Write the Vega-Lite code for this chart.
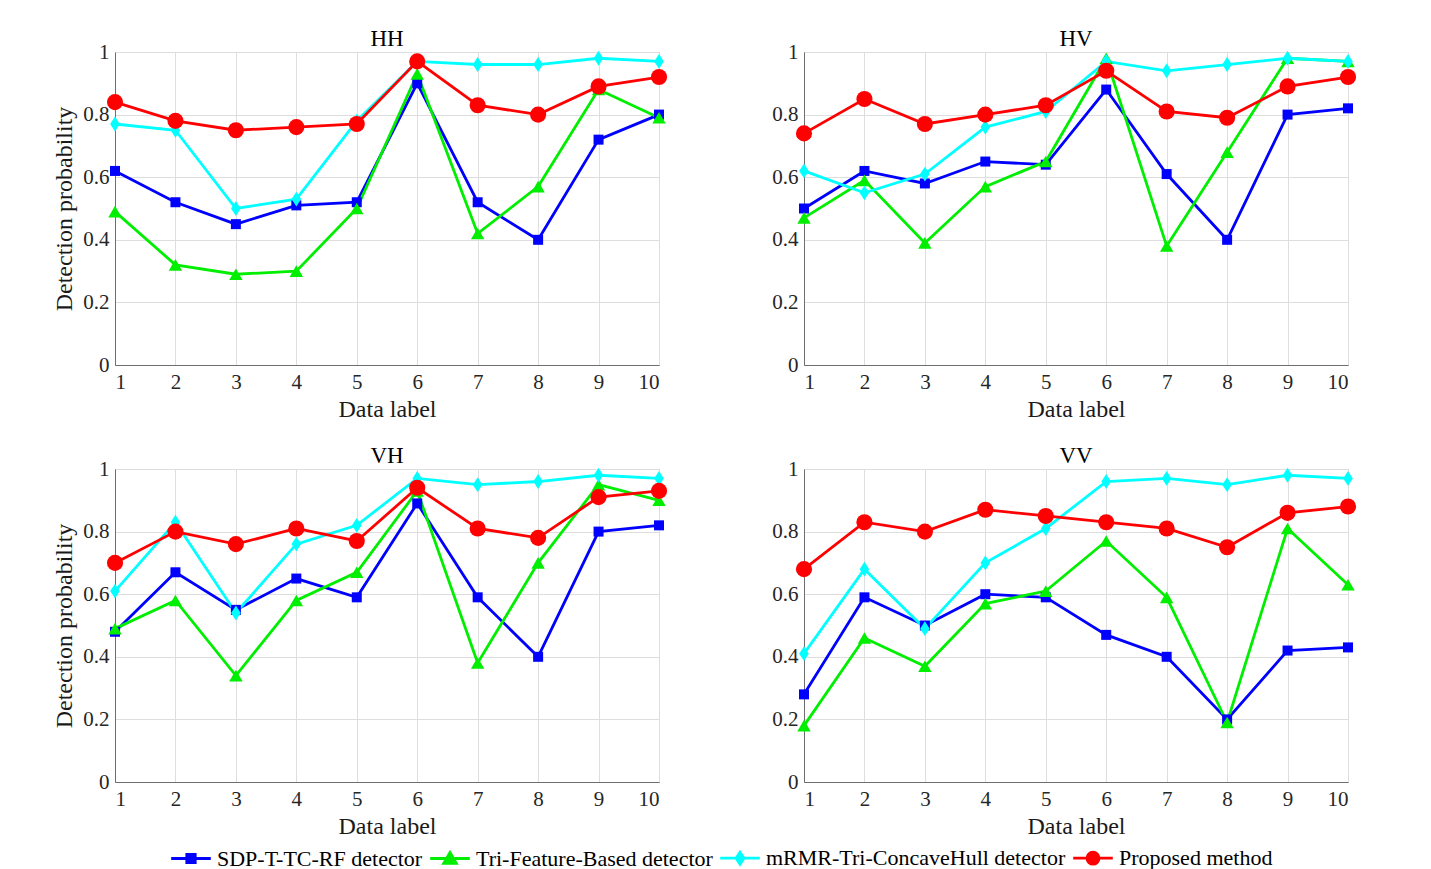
{
  "$schema": "https://vega.github.io/schema/vega-lite/v6.json",
  "padding": {"left": 52, "top": 27, "right": 5, "bottom": 0},
  "background": "white",
  "config": {
    "font": "Liberation Serif",
    "view": {"stroke": "#6e6e6e", "strokeWidth": 1},
    "axis": {
      "labelFont": "Liberation Serif",
      "titleFont": "Liberation Serif",
      "labelFontSize": 21,
      "titleFontSize": 24,
      "titleFontWeight": "normal",
      "labelColor": "#262626",
      "titleColor": "#1a1a1a",
      "gridColor": "#dedede",
      "domainColor": "#6e6e6e",
      "ticks": false,
      "labelPadding": 6
    },
    "title": {"font": "Liberation Serif", "fontSize": 23, "fontWeight": "normal", "color": "#000000", "offset": -10, "baseline": "alphabetic"},
    "point": {
      "filled": true,
      "opacity": 1,
      "shape": {"expr": "datum.method === 'SDP-T-TC-RF detector' ? 'square' : datum.method === 'Tri-Feature-Based detector' ? 'triangle-up' : datum.method === 'mRMR-Tri-ConcaveHull detector' ? 'M0,-1L0.65,0L0,1L-0.65,0Z' : 'circle'"},
      "size": {"expr": "datum.method === 'SDP-T-TC-RF detector' ? 100 : datum.method === 'Tri-Feature-Based detector' ? 180 : datum.method === 'mRMR-Tri-ConcaveHull detector' ? 220 : 260"}
    }
  },
  "data": {
    "values": [
      {"pol": "HH", "method": "SDP-T-TC-RF detector", "label": 1, "pd": 0.62},
      {"pol": "HH", "method": "SDP-T-TC-RF detector", "label": 2, "pd": 0.52},
      {"pol": "HH", "method": "SDP-T-TC-RF detector", "label": 3, "pd": 0.45},
      {"pol": "HH", "method": "SDP-T-TC-RF detector", "label": 4, "pd": 0.51},
      {"pol": "HH", "method": "SDP-T-TC-RF detector", "label": 5, "pd": 0.52},
      {"pol": "HH", "method": "SDP-T-TC-RF detector", "label": 6, "pd": 0.90},
      {"pol": "HH", "method": "SDP-T-TC-RF detector", "label": 7, "pd": 0.52},
      {"pol": "HH", "method": "SDP-T-TC-RF detector", "label": 8, "pd": 0.40},
      {"pol": "HH", "method": "SDP-T-TC-RF detector", "label": 9, "pd": 0.72},
      {"pol": "HH", "method": "SDP-T-TC-RF detector", "label": 10, "pd": 0.80},
      {"pol": "HH", "method": "Tri-Feature-Based detector", "label": 1, "pd": 0.49},
      {"pol": "HH", "method": "Tri-Feature-Based detector", "label": 2, "pd": 0.32},
      {"pol": "HH", "method": "Tri-Feature-Based detector", "label": 3, "pd": 0.29},
      {"pol": "HH", "method": "Tri-Feature-Based detector", "label": 4, "pd": 0.30},
      {"pol": "HH", "method": "Tri-Feature-Based detector", "label": 5, "pd": 0.50},
      {"pol": "HH", "method": "Tri-Feature-Based detector", "label": 6, "pd": 0.93},
      {"pol": "HH", "method": "Tri-Feature-Based detector", "label": 7, "pd": 0.42},
      {"pol": "HH", "method": "Tri-Feature-Based detector", "label": 8, "pd": 0.57},
      {"pol": "HH", "method": "Tri-Feature-Based detector", "label": 9, "pd": 0.88},
      {"pol": "HH", "method": "Tri-Feature-Based detector", "label": 10, "pd": 0.79},
      {"pol": "HH", "method": "mRMR-Tri-ConcaveHull detector", "label": 1, "pd": 0.77},
      {"pol": "HH", "method": "mRMR-Tri-ConcaveHull detector", "label": 2, "pd": 0.75},
      {"pol": "HH", "method": "mRMR-Tri-ConcaveHull detector", "label": 3, "pd": 0.50},
      {"pol": "HH", "method": "mRMR-Tri-ConcaveHull detector", "label": 4, "pd": 0.53},
      {"pol": "HH", "method": "mRMR-Tri-ConcaveHull detector", "label": 5, "pd": 0.78},
      {"pol": "HH", "method": "mRMR-Tri-ConcaveHull detector", "label": 6, "pd": 0.97},
      {"pol": "HH", "method": "mRMR-Tri-ConcaveHull detector", "label": 7, "pd": 0.96},
      {"pol": "HH", "method": "mRMR-Tri-ConcaveHull detector", "label": 8, "pd": 0.96},
      {"pol": "HH", "method": "mRMR-Tri-ConcaveHull detector", "label": 9, "pd": 0.98},
      {"pol": "HH", "method": "mRMR-Tri-ConcaveHull detector", "label": 10, "pd": 0.97},
      {"pol": "HH", "method": "Proposed method", "label": 1, "pd": 0.84},
      {"pol": "HH", "method": "Proposed method", "label": 2, "pd": 0.78},
      {"pol": "HH", "method": "Proposed method", "label": 3, "pd": 0.75},
      {"pol": "HH", "method": "Proposed method", "label": 4, "pd": 0.76},
      {"pol": "HH", "method": "Proposed method", "label": 5, "pd": 0.77},
      {"pol": "HH", "method": "Proposed method", "label": 6, "pd": 0.97},
      {"pol": "HH", "method": "Proposed method", "label": 7, "pd": 0.83},
      {"pol": "HH", "method": "Proposed method", "label": 8, "pd": 0.80},
      {"pol": "HH", "method": "Proposed method", "label": 9, "pd": 0.89},
      {"pol": "HH", "method": "Proposed method", "label": 10, "pd": 0.92},
      {"pol": "HV", "method": "SDP-T-TC-RF detector", "label": 1, "pd": 0.50},
      {"pol": "HV", "method": "SDP-T-TC-RF detector", "label": 2, "pd": 0.62},
      {"pol": "HV", "method": "SDP-T-TC-RF detector", "label": 3, "pd": 0.58},
      {"pol": "HV", "method": "SDP-T-TC-RF detector", "label": 4, "pd": 0.65},
      {"pol": "HV", "method": "SDP-T-TC-RF detector", "label": 5, "pd": 0.64},
      {"pol": "HV", "method": "SDP-T-TC-RF detector", "label": 6, "pd": 0.88},
      {"pol": "HV", "method": "SDP-T-TC-RF detector", "label": 7, "pd": 0.61},
      {"pol": "HV", "method": "SDP-T-TC-RF detector", "label": 8, "pd": 0.40},
      {"pol": "HV", "method": "SDP-T-TC-RF detector", "label": 9, "pd": 0.80},
      {"pol": "HV", "method": "SDP-T-TC-RF detector", "label": 10, "pd": 0.82},
      {"pol": "HV", "method": "Tri-Feature-Based detector", "label": 1, "pd": 0.47},
      {"pol": "HV", "method": "Tri-Feature-Based detector", "label": 2, "pd": 0.59},
      {"pol": "HV", "method": "Tri-Feature-Based detector", "label": 3, "pd": 0.39},
      {"pol": "HV", "method": "Tri-Feature-Based detector", "label": 4, "pd": 0.57},
      {"pol": "HV", "method": "Tri-Feature-Based detector", "label": 5, "pd": 0.65},
      {"pol": "HV", "method": "Tri-Feature-Based detector", "label": 6, "pd": 0.98},
      {"pol": "HV", "method": "Tri-Feature-Based detector", "label": 7, "pd": 0.38},
      {"pol": "HV", "method": "Tri-Feature-Based detector", "label": 8, "pd": 0.68},
      {"pol": "HV", "method": "Tri-Feature-Based detector", "label": 9, "pd": 0.98},
      {"pol": "HV", "method": "Tri-Feature-Based detector", "label": 10, "pd": 0.97},
      {"pol": "HV", "method": "mRMR-Tri-ConcaveHull detector", "label": 1, "pd": 0.62},
      {"pol": "HV", "method": "mRMR-Tri-ConcaveHull detector", "label": 2, "pd": 0.55},
      {"pol": "HV", "method": "mRMR-Tri-ConcaveHull detector", "label": 3, "pd": 0.61},
      {"pol": "HV", "method": "mRMR-Tri-ConcaveHull detector", "label": 4, "pd": 0.76},
      {"pol": "HV", "method": "mRMR-Tri-ConcaveHull detector", "label": 5, "pd": 0.81},
      {"pol": "HV", "method": "mRMR-Tri-ConcaveHull detector", "label": 6, "pd": 0.97},
      {"pol": "HV", "method": "mRMR-Tri-ConcaveHull detector", "label": 7, "pd": 0.94},
      {"pol": "HV", "method": "mRMR-Tri-ConcaveHull detector", "label": 8, "pd": 0.96},
      {"pol": "HV", "method": "mRMR-Tri-ConcaveHull detector", "label": 9, "pd": 0.98},
      {"pol": "HV", "method": "mRMR-Tri-ConcaveHull detector", "label": 10, "pd": 0.97},
      {"pol": "HV", "method": "Proposed method", "label": 1, "pd": 0.74},
      {"pol": "HV", "method": "Proposed method", "label": 2, "pd": 0.85},
      {"pol": "HV", "method": "Proposed method", "label": 3, "pd": 0.77},
      {"pol": "HV", "method": "Proposed method", "label": 4, "pd": 0.80},
      {"pol": "HV", "method": "Proposed method", "label": 5, "pd": 0.83},
      {"pol": "HV", "method": "Proposed method", "label": 6, "pd": 0.94},
      {"pol": "HV", "method": "Proposed method", "label": 7, "pd": 0.81},
      {"pol": "HV", "method": "Proposed method", "label": 8, "pd": 0.79},
      {"pol": "HV", "method": "Proposed method", "label": 9, "pd": 0.89},
      {"pol": "HV", "method": "Proposed method", "label": 10, "pd": 0.92},
      {"pol": "VH", "method": "SDP-T-TC-RF detector", "label": 1, "pd": 0.48},
      {"pol": "VH", "method": "SDP-T-TC-RF detector", "label": 2, "pd": 0.67},
      {"pol": "VH", "method": "SDP-T-TC-RF detector", "label": 3, "pd": 0.55},
      {"pol": "VH", "method": "SDP-T-TC-RF detector", "label": 4, "pd": 0.65},
      {"pol": "VH", "method": "SDP-T-TC-RF detector", "label": 5, "pd": 0.59},
      {"pol": "VH", "method": "SDP-T-TC-RF detector", "label": 6, "pd": 0.89},
      {"pol": "VH", "method": "SDP-T-TC-RF detector", "label": 7, "pd": 0.59},
      {"pol": "VH", "method": "SDP-T-TC-RF detector", "label": 8, "pd": 0.40},
      {"pol": "VH", "method": "SDP-T-TC-RF detector", "label": 9, "pd": 0.80},
      {"pol": "VH", "method": "SDP-T-TC-RF detector", "label": 10, "pd": 0.82},
      {"pol": "VH", "method": "Tri-Feature-Based detector", "label": 1, "pd": 0.49},
      {"pol": "VH", "method": "Tri-Feature-Based detector", "label": 2, "pd": 0.58},
      {"pol": "VH", "method": "Tri-Feature-Based detector", "label": 3, "pd": 0.34},
      {"pol": "VH", "method": "Tri-Feature-Based detector", "label": 4, "pd": 0.58},
      {"pol": "VH", "method": "Tri-Feature-Based detector", "label": 5, "pd": 0.67},
      {"pol": "VH", "method": "Tri-Feature-Based detector", "label": 6, "pd": 0.93},
      {"pol": "VH", "method": "Tri-Feature-Based detector", "label": 7, "pd": 0.38},
      {"pol": "VH", "method": "Tri-Feature-Based detector", "label": 8, "pd": 0.70},
      {"pol": "VH", "method": "Tri-Feature-Based detector", "label": 9, "pd": 0.95},
      {"pol": "VH", "method": "Tri-Feature-Based detector", "label": 10, "pd": 0.90},
      {"pol": "VH", "method": "mRMR-Tri-ConcaveHull detector", "label": 1, "pd": 0.61},
      {"pol": "VH", "method": "mRMR-Tri-ConcaveHull detector", "label": 2, "pd": 0.83},
      {"pol": "VH", "method": "mRMR-Tri-ConcaveHull detector", "label": 3, "pd": 0.54},
      {"pol": "VH", "method": "mRMR-Tri-ConcaveHull detector", "label": 4, "pd": 0.76},
      {"pol": "VH", "method": "mRMR-Tri-ConcaveHull detector", "label": 5, "pd": 0.82},
      {"pol": "VH", "method": "mRMR-Tri-ConcaveHull detector", "label": 6, "pd": 0.97},
      {"pol": "VH", "method": "mRMR-Tri-ConcaveHull detector", "label": 7, "pd": 0.95},
      {"pol": "VH", "method": "mRMR-Tri-ConcaveHull detector", "label": 8, "pd": 0.96},
      {"pol": "VH", "method": "mRMR-Tri-ConcaveHull detector", "label": 9, "pd": 0.98},
      {"pol": "VH", "method": "mRMR-Tri-ConcaveHull detector", "label": 10, "pd": 0.97},
      {"pol": "VH", "method": "Proposed method", "label": 1, "pd": 0.70},
      {"pol": "VH", "method": "Proposed method", "label": 2, "pd": 0.80},
      {"pol": "VH", "method": "Proposed method", "label": 3, "pd": 0.76},
      {"pol": "VH", "method": "Proposed method", "label": 4, "pd": 0.81},
      {"pol": "VH", "method": "Proposed method", "label": 5, "pd": 0.77},
      {"pol": "VH", "method": "Proposed method", "label": 6, "pd": 0.94},
      {"pol": "VH", "method": "Proposed method", "label": 7, "pd": 0.81},
      {"pol": "VH", "method": "Proposed method", "label": 8, "pd": 0.78},
      {"pol": "VH", "method": "Proposed method", "label": 9, "pd": 0.91},
      {"pol": "VH", "method": "Proposed method", "label": 10, "pd": 0.93},
      {"pol": "VV", "method": "SDP-T-TC-RF detector", "label": 1, "pd": 0.28},
      {"pol": "VV", "method": "SDP-T-TC-RF detector", "label": 2, "pd": 0.59},
      {"pol": "VV", "method": "SDP-T-TC-RF detector", "label": 3, "pd": 0.50},
      {"pol": "VV", "method": "SDP-T-TC-RF detector", "label": 4, "pd": 0.60},
      {"pol": "VV", "method": "SDP-T-TC-RF detector", "label": 5, "pd": 0.59},
      {"pol": "VV", "method": "SDP-T-TC-RF detector", "label": 6, "pd": 0.47},
      {"pol": "VV", "method": "SDP-T-TC-RF detector", "label": 7, "pd": 0.40},
      {"pol": "VV", "method": "SDP-T-TC-RF detector", "label": 8, "pd": 0.20},
      {"pol": "VV", "method": "SDP-T-TC-RF detector", "label": 9, "pd": 0.42},
      {"pol": "VV", "method": "SDP-T-TC-RF detector", "label": 10, "pd": 0.43},
      {"pol": "VV", "method": "Tri-Feature-Based detector", "label": 1, "pd": 0.18},
      {"pol": "VV", "method": "Tri-Feature-Based detector", "label": 2, "pd": 0.46},
      {"pol": "VV", "method": "Tri-Feature-Based detector", "label": 3, "pd": 0.37},
      {"pol": "VV", "method": "Tri-Feature-Based detector", "label": 4, "pd": 0.57},
      {"pol": "VV", "method": "Tri-Feature-Based detector", "label": 5, "pd": 0.61},
      {"pol": "VV", "method": "Tri-Feature-Based detector", "label": 6, "pd": 0.77},
      {"pol": "VV", "method": "Tri-Feature-Based detector", "label": 7, "pd": 0.59},
      {"pol": "VV", "method": "Tri-Feature-Based detector", "label": 8, "pd": 0.19},
      {"pol": "VV", "method": "Tri-Feature-Based detector", "label": 9, "pd": 0.81},
      {"pol": "VV", "method": "Tri-Feature-Based detector", "label": 10, "pd": 0.63},
      {"pol": "VV", "method": "mRMR-Tri-ConcaveHull detector", "label": 1, "pd": 0.41},
      {"pol": "VV", "method": "mRMR-Tri-ConcaveHull detector", "label": 2, "pd": 0.68},
      {"pol": "VV", "method": "mRMR-Tri-ConcaveHull detector", "label": 3, "pd": 0.49},
      {"pol": "VV", "method": "mRMR-Tri-ConcaveHull detector", "label": 4, "pd": 0.70},
      {"pol": "VV", "method": "mRMR-Tri-ConcaveHull detector", "label": 5, "pd": 0.81},
      {"pol": "VV", "method": "mRMR-Tri-ConcaveHull detector", "label": 6, "pd": 0.96},
      {"pol": "VV", "method": "mRMR-Tri-ConcaveHull detector", "label": 7, "pd": 0.97},
      {"pol": "VV", "method": "mRMR-Tri-ConcaveHull detector", "label": 8, "pd": 0.95},
      {"pol": "VV", "method": "mRMR-Tri-ConcaveHull detector", "label": 9, "pd": 0.98},
      {"pol": "VV", "method": "mRMR-Tri-ConcaveHull detector", "label": 10, "pd": 0.97},
      {"pol": "VV", "method": "Proposed method", "label": 1, "pd": 0.68},
      {"pol": "VV", "method": "Proposed method", "label": 2, "pd": 0.83},
      {"pol": "VV", "method": "Proposed method", "label": 3, "pd": 0.80},
      {"pol": "VV", "method": "Proposed method", "label": 4, "pd": 0.87},
      {"pol": "VV", "method": "Proposed method", "label": 5, "pd": 0.85},
      {"pol": "VV", "method": "Proposed method", "label": 6, "pd": 0.83},
      {"pol": "VV", "method": "Proposed method", "label": 7, "pd": 0.81},
      {"pol": "VV", "method": "Proposed method", "label": 8, "pd": 0.75},
      {"pol": "VV", "method": "Proposed method", "label": 9, "pd": 0.86},
      {"pol": "VV", "method": "Proposed method", "label": 10, "pd": 0.88}
    ]
  },
  "spacing": 22,
  "vconcat": [
    {
      "spacing": 103,
      "hconcat": [
        {
          "title": "HH",
          "width": 544, "height": 313,
          "transform": [{"filter": "datum.pol === 'HH'"}],
          "encoding": {
            "x": {"field": "label", "type": "quantitative", "title": "Data label", "scale": {"domain": [1, 10], "nice": false, "zero": false}, "axis": {"values": [1,2,3,4,5,6,7,8,9,10], "titlePadding": 5}},
            "y": {"field": "pd", "type": "quantitative", "title": "Detection probability", "scale": {"domain": [0, 1], "nice": false}, "axis": {"values": [0,0.2,0.4,0.6,0.8,1], "format": "~g", "titlePadding": 6}},
            "color": {"field": "method", "type": "nominal", "title": null, "sort": null,
              "scale": {"domain": ["SDP-T-TC-RF detector", "Tri-Feature-Based detector", "mRMR-Tri-ConcaveHull detector", "Proposed method"], "range": ["#0000ff", "#00ee00", "#00ffff", "#ff0000"]},
              "legend": {"orient": "none", "direction": "horizontal", "legendX": 65, "legendY": 795, "symbolSize": 144, "labelFontSize": 22, "labelFont": "Liberation Serif", "labelColor": "#000000", "labelOffset": 15, "labelLimit": 400, "columnPadding": 1, "symbolLimit": 10,
                "symbolStrokeWidth": 2.5, "symbolOpacity": 1,
                "symbolType": {"expr": "datum.value === 'SDP-T-TC-RF detector' ? 'M-3.3,0H3.3M-0.7,-0.7H0.7V0.7H-0.7Z' : datum.value === 'Tri-Feature-Based detector' ? 'M-3.3,0H3.3M0,-1L1.05,0.8H-1.05Z' : datum.value === 'mRMR-Tri-ConcaveHull detector' ? 'M-3.3,0H3.3M0,-1L0.65,0L0,1L-0.65,0Z' : 'M-3.3,0H3.3M-1,0A1,1,0,1,1,1,0A1,1,0,1,1,-1,0Z'"},
                "symbolFillColor": {"expr": "scale('color', datum.value)"},
                "symbolStrokeColor": {"expr": "scale('color', datum.value)"}
              }
            }
          },
          "layer": [
            {"mark": {"type": "line"}, "encoding": {"strokeWidth": {"field": "method", "type": "nominal", "legend": null, "scale": {"domain": ["SDP-T-TC-RF detector", "Tri-Feature-Based detector", "mRMR-Tri-ConcaveHull detector", "Proposed method"], "range": [2.8, 2.8, 2.8, 3.6]}}}},
            {"mark": {"type": "point"}}
          ]
        },
        {
          "title": "HV",
          "width": 544, "height": 313,
          "transform": [{"filter": "datum.pol === 'HV'"}],
          "encoding": {
            "x": {"field": "label", "type": "quantitative", "title": "Data label", "scale": {"domain": [1, 10], "nice": false, "zero": false}, "axis": {"values": [1,2,3,4,5,6,7,8,9,10], "titlePadding": 5}},
            "y": {"field": "pd", "type": "quantitative", "title": null, "scale": {"domain": [0, 1], "nice": false}, "axis": {"values": [0,0.2,0.4,0.6,0.8,1], "format": "~g"}},
            "color": {"field": "method", "type": "nominal", "title": null, "sort": null}
          },
          "layer": [
            {"mark": {"type": "line"}, "encoding": {"strokeWidth": {"field": "method", "type": "nominal", "legend": null}}},
            {"mark": {"type": "point"}}
          ]
        }
      ]
    },
    {
      "spacing": 103,
      "hconcat": [
        {
          "title": "VH",
          "width": 544, "height": 313,
          "transform": [{"filter": "datum.pol === 'VH'"}],
          "encoding": {
            "x": {"field": "label", "type": "quantitative", "title": "Data label", "scale": {"domain": [1, 10], "nice": false, "zero": false}, "axis": {"values": [1,2,3,4,5,6,7,8,9,10], "titlePadding": 5}},
            "y": {"field": "pd", "type": "quantitative", "title": "Detection probability", "scale": {"domain": [0, 1], "nice": false}, "axis": {"values": [0,0.2,0.4,0.6,0.8,1], "format": "~g", "titlePadding": 6}},
            "color": {"field": "method", "type": "nominal", "title": null, "sort": null}
          },
          "layer": [
            {"mark": {"type": "line"}, "encoding": {"strokeWidth": {"field": "method", "type": "nominal", "legend": null}}},
            {"mark": {"type": "point"}}
          ]
        },
        {
          "title": "VV",
          "width": 544, "height": 313,
          "transform": [{"filter": "datum.pol === 'VV'"}],
          "encoding": {
            "x": {"field": "label", "type": "quantitative", "title": "Data label", "scale": {"domain": [1, 10], "nice": false, "zero": false}, "axis": {"values": [1,2,3,4,5,6,7,8,9,10], "titlePadding": 5}},
            "y": {"field": "pd", "type": "quantitative", "title": null, "scale": {"domain": [0, 1], "nice": false}, "axis": {"values": [0,0.2,0.4,0.6,0.8,1], "format": "~g"}},
            "color": {"field": "method", "type": "nominal", "title": null, "sort": null}
          },
          "layer": [
            {"mark": {"type": "line"}, "encoding": {"strokeWidth": {"field": "method", "type": "nominal", "legend": null}}},
            {"mark": {"type": "point"}}
          ]
        }
      ]
    }
  ]
}
